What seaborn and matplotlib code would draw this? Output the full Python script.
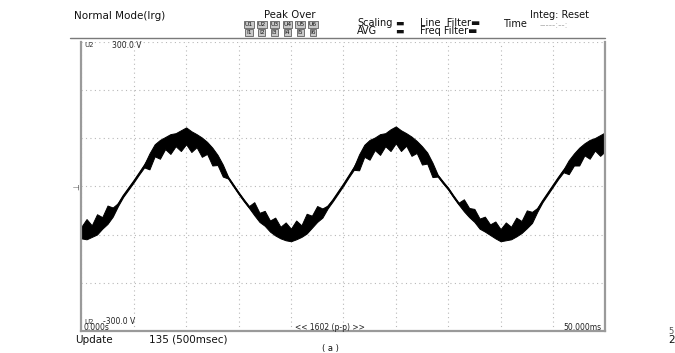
import matplotlib
matplotlib.use("Agg")
import matplotlib.pyplot as plt
import seaborn as sns
import pandas as pd
from matplotlib.lines import Line2D

# ---- data (0.5 ms steps) ----
time_ms = [i * 0.5 for i in range(101)]
center_v = [-97, -97, -94, -87, -77, -67, -55, -38, -20, -5,
            10, 26, 42, 59, 75, 84, 90, 94, 97, 100,
            101, 98, 94, 88, 80, 68, 55, 37, 18, 2,
            -14, -29, -43, -55, -66, -76, -84, -91, -97, -100,
            -101, -98, -94, -85, -74, -66, -57, -43, -29, -13,
            3, 20, 37, 56, 74, 82, 88, 92, 96, 100,
            103, 100, 97, 90, 82, 71, 59, 41, 22, 8,
            -5, -21, -36, -46, -56, -68, -79, -85, -91, -97,
            -102, -100, -98, -92, -86, -77, -66, -49, -31, -15,
            1, 17, 32, 44, 56, 67, 77, 82, 87, 90,
            92]
upper_v = [-84, -68, -81, -58, -64, -40, -44, -35, -18, -3,
           12, 28, 45, 68, 87, 96, 102, 108, 110, 116,
           122, 114, 108, 101, 92, 80, 65, 45, 20, 4,
           -12, -27, -41, -33, -55, -51, -71, -65, -84, -75,
           -88, -71, -81, -57, -61, -41, -46, -40, -27, -11,
           5, 22, 40, 66, 86, 96, 101, 108, 110, 118,
           124, 116, 110, 103, 94, 83, 70, 49, 24, 10,
           -3, -19, -34, -27, -45, -47, -67, -63, -79, -73,
           -89, -75, -84, -65, -72, -50, -53, -45, -29, -13,
           3, 19, 35, 54, 68, 80, 89, 96, 100, 106,
           112]
lower_v = [-108, -110, -105, -100, -88, -78, -63, -41, -22, -7,
           8, 24, 39, 35, 62, 57, 77, 67, 83, 73,
           87, 71, 81, 61, 67, 43, 44, 20, 16, 0,
           -16, -31, -45, -60, -74, -82, -94, -102, -108, -112,
           -114, -110, -105, -98, -86, -74, -65, -46, -31, -15,
           1, 18, 34, 33, 61, 55, 75, 65, 83, 73,
           89, 73, 84, 63, 69, 45, 47, 19, 20, 6,
           -7, -23, -38, -52, -64, -74, -88, -94, -101, -108,
           -114, -112, -110, -104, -97, -87, -76, -53, -33, -17,
           -1, 15, 29, 25, 43, 43, 64, 57, 74, 63,
           73]
x_ticks = [0, 5, 10, 15, 20, 25, 30, 35, 40, 45, 50]
y_ticks = [-300, -200, -100, 0, 100, 200, 300]
unit_row1 = ["U1", "U2", "U3", "U4", "U5", "U6"]
unit_row2 = ["I1", "I2", "I3", "I4", "I5", "I6"]

df = pd.DataFrame({"t": time_ms, "v": center_v, "up": upper_v, "lo": lower_v})

sns.set_style("white")
plt.rcParams["font.family"] = ["DejaVu Sans"]

W, H = 675, 353
fig = plt.figure(figsize=(W / 100, H / 100), dpi=100)

def fx(x):
    return x / W

def fy(y):
    return 1 - y / H

ax = fig.add_axes([fx(81.3), fy(331), fx(605.4) - fx(81.3), fy(41.5) - fy(331)])

ax.fill_between(df["t"], df["lo"], df["up"], color="black", lw=0.7, edgecolor="black")
sns.lineplot(data=df, x="t", y="v", ax=ax, color="black", lw=1.1)

ax.set_xlim(0, 50)
ax.set_ylim(-300, 300)
ax.set_xticks(x_ticks)
ax.set_yticks(y_ticks)
ax.tick_params(left=False, bottom=False, labelleft=False, labelbottom=False)
ax.set_xlabel("")
ax.set_ylabel("")
ax.grid(True, color="#b8b8b8", lw=0.8, ls=(0, (1, 3)))
for s in ["left", "right", "bottom"]:
    ax.spines[s].set_color("#9a9a9a")
    ax.spines[s].set_linewidth(1.6)
ax.spines["top"].set_visible(False)

# header separator line
fig.add_artist(Line2D([fx(70), fx(605.4)], [fy(37.5), fy(37.5)], color="#7a7a7a", lw=1.0))

def T(x, y, s, size=7, ha="left", color="#111111", **kw):
    fig.text(fx(x), fy(y), s, fontsize=size, ha=ha, va="center", color=color, **kw)

T(74, 16, "Normal Mode(Irg)", 7.5)
T(290, 15, "Peak Over", 7.3, ha="center")
for i, (a, b) in enumerate(zip(unit_row1, unit_row2)):
    xx = 249 + i * 12.8
    for yy, s in ((24.5, a), (32.5, b)):
        T(xx, yy, s, 4.3, ha="center",
          bbox=dict(boxstyle="square,pad=0.12", fc="#c8c8c8", ec="#444444", lw=0.5))
T(357, 23, "Scaling", 7)
T(357, 31.5, "AVG", 7)
T(395, 23, "\u25ac", 6.5)
T(395, 31.5, "\u25ac", 6.5)
T(420, 23, "Line  Filter\u25ac", 7)
T(420, 31.5, "Freq Filter\u25ac", 7)
T(503, 24, "Time", 7)
T(530, 15, "Integ: Reset", 7)
T(540, 25, "-----:--:", 6.5, color="#aaaaaa")

T(84, 45, "U2", 5, color="#333333")
T(112, 45, "300.0 V", 5.5, color="#222222")
T(84, 322, "U2", 5, color="#333333")
T(103, 322, "-300.0 V", 5.5, color="#222222")
T(83, 328, "0.000s", 5.5, color="#222222")
T(330, 328, "<< 1602 (p-p) >>", 5.5, ha="center", color="#222222")
T(601, 328, "50.000ms", 5.5, ha="right", color="#222222")
T(77, 187, "\u22a5", 5.5, ha="center", color="#555555", rotation=90)

T(75, 340, "Update", 7.5)
T(149, 340, "135 (500msec)", 7.5)
T(668, 340, "2", 7.5)
T(668, 331, "5", 6, color="#555555")
T(330, 348, "( a )", 6, ha="center")

fig.savefig("out.png", dpi=100)
